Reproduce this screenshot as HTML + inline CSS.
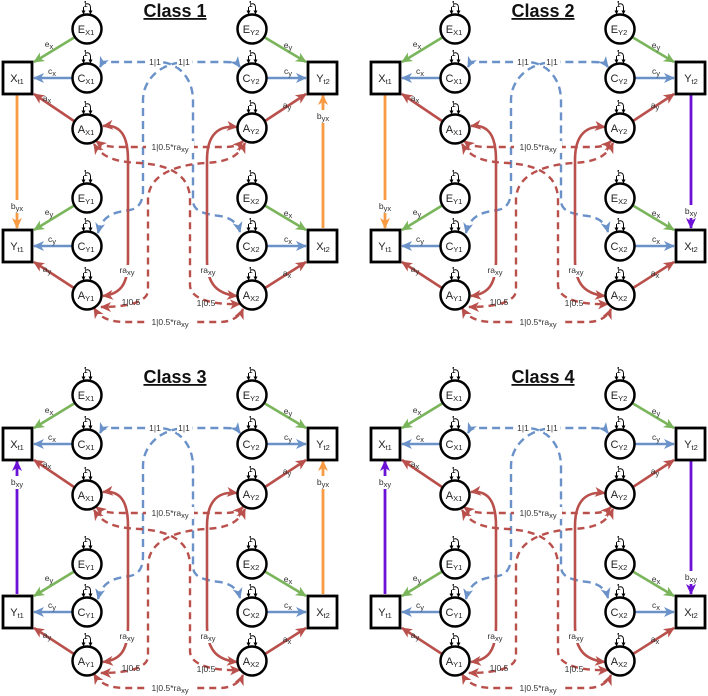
<!DOCTYPE html>
<html><head><meta charset="utf-8"><style>
html,body{margin:0;padding:0;background:#fff;}
svg{display:block;font-family:"Liberation Sans",sans-serif;}
.c{fill:#fff;stroke:#000;stroke-width:2.5}
.b{fill:#fff;stroke:#000;stroke-width:2.8}
.n{font-size:11px;text-anchor:middle;fill:#222}
.s{font-size:7.5px}
.l{font-size:8.5px;text-anchor:middle;fill:#333}
.w{fill:#fff}
.t{font-size:18px;font-weight:bold;text-anchor:middle;text-decoration:underline;fill:#111}
.g{stroke:#7ab55c;stroke-width:2.6;fill:none;marker-end:url(#mg)}
.bl{stroke:#6a92c9;stroke-width:2.6;fill:none;marker-end:url(#mb)}
.r{stroke:#b9504c;stroke-width:2.6;fill:none;marker-end:url(#mr)}
.bd{stroke:#6a92c9;stroke-width:2.4;fill:none;stroke-dasharray:8 5;marker-start:url(#mb);marker-end:url(#mb)}
.rd{stroke:#b9504c;stroke-width:2.4;fill:none;stroke-dasharray:7 5;marker-start:url(#mr);marker-end:url(#mr)}
.rs{stroke:#b9504c;stroke-width:2.6;fill:none;marker-start:url(#mr);marker-end:url(#mr)}
.o{stroke:#f99b45;stroke-width:2.8;fill:none;marker-end:url(#mo)}
.p{stroke:#6c12d6;stroke-width:2.8;fill:none;marker-end:url(#mp)}
.lp{stroke:#000;stroke-width:1;fill:none;marker-end:url(#mk)}
.one{font-size:8px;text-anchor:middle;fill:#000}
</style></head><body>
<svg width="708" height="696" viewBox="0 0 708 696" xmlns="http://www.w3.org/2000/svg">
<defs>
<marker id="mg" markerUnits="userSpaceOnUse" markerWidth="11" markerHeight="10" refX="10" refY="5" orient="auto-start-reverse"><path d="M0,0 L11,5 L0,10 L3,5z" fill="#7ab55c"/></marker>
<marker id="mb" markerUnits="userSpaceOnUse" markerWidth="11" markerHeight="10" refX="10" refY="5" orient="auto-start-reverse"><path d="M0,0 L11,5 L0,10 L3,5z" fill="#6a92c9"/></marker>
<marker id="mr" markerUnits="userSpaceOnUse" markerWidth="11" markerHeight="10" refX="10" refY="5" orient="auto-start-reverse"><path d="M0,0 L11,5 L0,10 L3,5z" fill="#b9504c"/></marker>
<marker id="mo" markerUnits="userSpaceOnUse" markerWidth="11" markerHeight="10" refX="10" refY="5" orient="auto-start-reverse"><path d="M0,0 L11,5 L0,10 L3,5z" fill="#f99b45"/></marker>
<marker id="mp" markerUnits="userSpaceOnUse" markerWidth="11" markerHeight="10" refX="10" refY="5" orient="auto-start-reverse"><path d="M0,0 L11,5 L0,10 L3,5z" fill="#6c12d6"/></marker>
<marker id="mk" markerUnits="userSpaceOnUse" markerWidth="4" markerHeight="4" refX="3.5" refY="2" orient="auto"><path d="M0,0 L4,2 L0,4z" fill="#000"/></marker>
</defs>

<!-- PANEL 1 -->
<g transform="translate(0,0)">
<text class="t" x="175" y="17">Class 1</text>
<path class="bd" d="M98,233 C102,215 115,212 130,210 C140,208 143,200 143,190 L143,100 C143,80 160,63 185,62 L225,62 C233,62 237,63 240,67"/>
<path class="bd" d="M100,67 C102,63 105,62 110,62 L160,62 C180,63 193,80 193,100 L193,200 C193,212 205,214 220,216 C232,218 238,224 240,232"/>
<path class="rd" d="M96,141 C104,147 112,147 125,147 L225,147 C234,147 239,145 243,141"/>
<path class="rd" d="M94,144 C104,160 120,162 140,163 C170,165 190,175 190,200 L190,285 C190,300 215,305 240,304"/>
<path class="rd" d="M245,143 C238,158 225,162 205,163 C175,165 148,175 148,200 L148,290 C148,303 125,307 101,307"/>
<path class="rd" d="M94,308 C100,318 110,322 125,322 L220,322 C232,322 240,316 243,309"/>
<path class="rs" d="M103,126 C120,124 128,135 128,160 L128,260 C128,285 120,294 103,296"/>
<path class="rs" d="M237,127 C218,125 207,135 207,160 L207,260 C207,285 218,294 237,296"/>
<path class="g" d="M75,37 L34,62"/><path class="bl" d="M72,78 L34,78"/><path class="r" d="M74,121 L34,94"/>
<path class="g" d="M264,37 L306,62"/><path class="bl" d="M267,78 L306,78"/><path class="r" d="M265,121 L306,94"/>
<path class="g" d="M75,205 L34,230"/><path class="bl" d="M72,246 L34,246"/><path class="r" d="M74,288 L34,262"/>
<path class="g" d="M264,205 L306,230"/><path class="bl" d="M267,246 L306,246"/><path class="r" d="M265,288 L306,262"/>
<path class="o" d="M17,95 L17,228"/><path class="o" d="M323,228 L323,95"/>
<rect class="w" x="9" y="200" width="16" height="13"/><rect class="w" x="315" y="110" width="16" height="13"/>
<rect class="w" x="148" y="57" width="15" height="10"/><rect class="w" x="177" y="57" width="15" height="10"/>
<rect class="w" x="146" y="141" width="48" height="12"/><rect class="w" x="146" y="316" width="48" height="12"/>
<rect class="w" x="119" y="265" width="17" height="12"/><rect class="w" x="200" y="265" width="17" height="12"/>
<text class="l" x="17" y="209">b<tspan class="s" dy="2">yx</tspan></text>
<text class="l" x="323" y="119">b<tspan class="s" dy="2">yx</tspan></text>
<text class="l" x="155" y="65">1|1</text><text class="l" x="184" y="65">1|1</text>
<text class="l" x="170" y="150">1|0.5*ra<tspan class="s" dy="2">xy</tspan></text>
<text class="l" x="170" y="325">1|0.5*ra<tspan class="s" dy="2">xy</tspan></text>
<text class="l" x="131" y="305">1|0.5</text><text class="l" x="206" y="306">1|0.5</text>
<text class="l" x="127" y="273">ra<tspan class="s" dy="2">xy</tspan></text>
<text class="l" x="208" y="273">ra<tspan class="s" dy="2">xy</tspan></text>
<text class="l" x="49" y="47">e<tspan class="s" dy="2">x</tspan></text><text class="l" x="52" y="74">c<tspan class="s" dy="2">x</tspan></text><text class="l" x="47" y="101">a<tspan class="s" dy="2">x</tspan></text>
<text class="l" x="288" y="48">e<tspan class="s" dy="2">y</tspan></text><text class="l" x="288" y="74">c<tspan class="s" dy="2">y</tspan></text><text class="l" x="287" y="108">a<tspan class="s" dy="2">y</tspan></text>
<text class="l" x="49" y="215">e<tspan class="s" dy="2">y</tspan></text><text class="l" x="52" y="242">c<tspan class="s" dy="2">y</tspan></text><text class="l" x="47" y="272">a<tspan class="s" dy="2">y</tspan></text>
<text class="l" x="288" y="216">e<tspan class="s" dy="2">x</tspan></text><text class="l" x="288" y="242">c<tspan class="s" dy="2">x</tspan></text><text class="l" x="287" y="276">a<tspan class="s" dy="2">x</tspan></text>
<rect class="b" x="3" y="62" width="29" height="32"/><text class="n" x="17" y="82">X<tspan class="s" dy="2">t1</tspan></text>
<rect class="b" x="3" y="230" width="29" height="32"/><text class="n" x="17" y="250">Y<tspan class="s" dy="2">t1</tspan></text>
<rect class="b" x="308" y="62" width="29" height="32"/><text class="n" x="323" y="82">Y<tspan class="s" dy="2">t2</tspan></text>
<rect class="b" x="308" y="230" width="29" height="32"/><text class="n" x="323" y="250">X<tspan class="s" dy="2">t2</tspan></text>
<g transform="translate(87,29)"><circle class="c" r="14.5"/><path class="lp" d="M-3.5,-22 L-3.5,-15"/><path class="lp" d="M-1,-25 C3,-26 3.5,-23 3.5,-21 L3.5,-15"/><text class="one" x="-1.5" y="-22">1</text><text class="n" x="-1" y="4">E<tspan class="s" dy="2">X1</tspan></text></g>
<g transform="translate(87,78)"><circle class="c" r="14.5"/><path class="lp" d="M-3.5,-22 L-3.5,-15"/><path class="lp" d="M-1,-25 C3,-26 3.5,-23 3.5,-21 L3.5,-15"/><text class="one" x="-1.5" y="-22">1</text><text class="n" x="-1" y="4">C<tspan class="s" dy="2">X1</tspan></text></g>
<g transform="translate(87,129)"><circle class="c" r="14.5"/><path class="lp" d="M-3.5,-22 L-3.5,-15"/><path class="lp" d="M-1,-25 C3,-26 3.5,-23 3.5,-21 L3.5,-15"/><text class="one" x="-1.5" y="-22">1</text><text class="n" x="-1" y="4">A<tspan class="s" dy="2">X1</tspan></text></g>
<g transform="translate(87,198)"><circle class="c" r="14.5"/><path class="lp" d="M-3.5,-22 L-3.5,-15"/><path class="lp" d="M-1,-25 C3,-26 3.5,-23 3.5,-21 L3.5,-15"/><text class="one" x="-1.5" y="-22">1</text><text class="n" x="-1" y="4">E<tspan class="s" dy="2">Y1</tspan></text></g>
<g transform="translate(87,246)"><circle class="c" r="14.5"/><path class="lp" d="M-3.5,-22 L-3.5,-15"/><path class="lp" d="M-1,-25 C3,-26 3.5,-23 3.5,-21 L3.5,-15"/><text class="one" x="-1.5" y="-22">1</text><text class="n" x="-1" y="4">C<tspan class="s" dy="2">Y1</tspan></text></g>
<g transform="translate(87,295)"><circle class="c" r="14.5"/><path class="lp" d="M-3.5,-22 L-3.5,-15"/><path class="lp" d="M-1,-25 C3,-26 3.5,-23 3.5,-21 L3.5,-15"/><text class="one" x="-1.5" y="-22">1</text><text class="n" x="-1" y="4">A<tspan class="s" dy="2">Y1</tspan></text></g>
<g transform="translate(252,29)"><circle class="c" r="14.5"/><path class="lp" d="M-3.5,-22 L-3.5,-15"/><path class="lp" d="M-1,-25 C3,-26 3.5,-23 3.5,-21 L3.5,-15"/><text class="one" x="-1.5" y="-22">1</text><text class="n" x="-1" y="4">E<tspan class="s" dy="2">Y2</tspan></text></g>
<g transform="translate(252,78)"><circle class="c" r="14.5"/><path class="lp" d="M-3.5,-22 L-3.5,-15"/><path class="lp" d="M-1,-25 C3,-26 3.5,-23 3.5,-21 L3.5,-15"/><text class="one" x="-1.5" y="-22">1</text><text class="n" x="-1" y="4">C<tspan class="s" dy="2">Y2</tspan></text></g>
<g transform="translate(252,128)"><circle class="c" r="14.5"/><path class="lp" d="M-3.5,-22 L-3.5,-15"/><path class="lp" d="M-1,-25 C3,-26 3.5,-23 3.5,-21 L3.5,-15"/><text class="one" x="-1.5" y="-22">1</text><text class="n" x="-1" y="4">A<tspan class="s" dy="2">Y2</tspan></text></g>
<g transform="translate(252,198)"><circle class="c" r="14.5"/><path class="lp" d="M-3.5,-22 L-3.5,-15"/><path class="lp" d="M-1,-25 C3,-26 3.5,-23 3.5,-21 L3.5,-15"/><text class="one" x="-1.5" y="-22">1</text><text class="n" x="-1" y="4">E<tspan class="s" dy="2">X2</tspan></text></g>
<g transform="translate(252,246)"><circle class="c" r="14.5"/><path class="lp" d="M-3.5,-22 L-3.5,-15"/><path class="lp" d="M-1,-25 C3,-26 3.5,-23 3.5,-21 L3.5,-15"/><text class="one" x="-1.5" y="-22">1</text><text class="n" x="-1" y="4">C<tspan class="s" dy="2">X2</tspan></text></g>
<g transform="translate(252,295)"><circle class="c" r="14.5"/><path class="lp" d="M-3.5,-22 L-3.5,-15"/><path class="lp" d="M-1,-25 C3,-26 3.5,-23 3.5,-21 L3.5,-15"/><text class="one" x="-1.5" y="-22">1</text><text class="n" x="-1" y="4">A<tspan class="s" dy="2">X2</tspan></text></g>
</g>

<!-- PANEL 2 -->
<g transform="translate(368,0)">
<text class="t" x="175" y="17">Class 2</text>
<path class="bd" d="M98,233 C102,215 115,212 130,210 C140,208 143,200 143,190 L143,100 C143,80 160,63 185,62 L225,62 C233,62 237,63 240,67"/>
<path class="bd" d="M100,67 C102,63 105,62 110,62 L160,62 C180,63 193,80 193,100 L193,200 C193,212 205,214 220,216 C232,218 238,224 240,232"/>
<path class="rd" d="M96,141 C104,147 112,147 125,147 L225,147 C234,147 239,145 243,141"/>
<path class="rd" d="M94,144 C104,160 120,162 140,163 C170,165 190,175 190,200 L190,285 C190,300 215,305 240,304"/>
<path class="rd" d="M245,143 C238,158 225,162 205,163 C175,165 148,175 148,200 L148,290 C148,303 125,307 101,307"/>
<path class="rd" d="M94,308 C100,318 110,322 125,322 L220,322 C232,322 240,316 243,309"/>
<path class="rs" d="M103,126 C120,124 128,135 128,160 L128,260 C128,285 120,294 103,296"/>
<path class="rs" d="M237,127 C218,125 207,135 207,160 L207,260 C207,285 218,294 237,296"/>
<path class="g" d="M75,37 L34,62"/><path class="bl" d="M72,78 L34,78"/><path class="r" d="M74,121 L34,94"/>
<path class="g" d="M264,37 L306,62"/><path class="bl" d="M267,78 L306,78"/><path class="r" d="M265,121 L306,94"/>
<path class="g" d="M75,205 L34,230"/><path class="bl" d="M72,246 L34,246"/><path class="r" d="M74,288 L34,262"/>
<path class="g" d="M264,205 L306,230"/><path class="bl" d="M267,246 L306,246"/><path class="r" d="M265,288 L306,262"/>
<path class="o" d="M17,95 L17,228"/><path class="p" d="M323,95 L323,228"/>
<rect class="w" x="9" y="200" width="16" height="13"/><rect class="w" x="315" y="205" width="16" height="13"/>
<rect class="w" x="148" y="57" width="15" height="10"/><rect class="w" x="177" y="57" width="15" height="10"/>
<rect class="w" x="146" y="141" width="48" height="12"/><rect class="w" x="146" y="316" width="48" height="12"/>
<rect class="w" x="119" y="265" width="17" height="12"/><rect class="w" x="200" y="265" width="17" height="12"/>
<text class="l" x="17" y="209">b<tspan class="s" dy="2">yx</tspan></text>
<text class="l" x="323" y="214">b<tspan class="s" dy="2">xy</tspan></text>
<text class="l" x="155" y="65">1|1</text><text class="l" x="184" y="65">1|1</text>
<text class="l" x="170" y="150">1|0.5*ra<tspan class="s" dy="2">xy</tspan></text>
<text class="l" x="170" y="325">1|0.5*ra<tspan class="s" dy="2">xy</tspan></text>
<text class="l" x="131" y="305">1|0.5</text><text class="l" x="206" y="306">1|0.5</text>
<text class="l" x="127" y="273">ra<tspan class="s" dy="2">xy</tspan></text>
<text class="l" x="208" y="273">ra<tspan class="s" dy="2">xy</tspan></text>
<text class="l" x="49" y="47">e<tspan class="s" dy="2">x</tspan></text><text class="l" x="52" y="74">c<tspan class="s" dy="2">x</tspan></text><text class="l" x="47" y="101">a<tspan class="s" dy="2">x</tspan></text>
<text class="l" x="288" y="48">e<tspan class="s" dy="2">y</tspan></text><text class="l" x="288" y="74">c<tspan class="s" dy="2">y</tspan></text><text class="l" x="287" y="108">a<tspan class="s" dy="2">y</tspan></text>
<text class="l" x="49" y="215">e<tspan class="s" dy="2">y</tspan></text><text class="l" x="52" y="242">c<tspan class="s" dy="2">y</tspan></text><text class="l" x="47" y="272">a<tspan class="s" dy="2">y</tspan></text>
<text class="l" x="288" y="216">e<tspan class="s" dy="2">x</tspan></text><text class="l" x="288" y="242">c<tspan class="s" dy="2">x</tspan></text><text class="l" x="287" y="276">a<tspan class="s" dy="2">x</tspan></text>
<rect class="b" x="3" y="62" width="29" height="32"/><text class="n" x="17" y="82">X<tspan class="s" dy="2">t1</tspan></text>
<rect class="b" x="3" y="230" width="29" height="32"/><text class="n" x="17" y="250">Y<tspan class="s" dy="2">t1</tspan></text>
<rect class="b" x="308" y="62" width="29" height="32"/><text class="n" x="323" y="82">Y<tspan class="s" dy="2">t2</tspan></text>
<rect class="b" x="308" y="230" width="29" height="32"/><text class="n" x="323" y="250">X<tspan class="s" dy="2">t2</tspan></text>
<g transform="translate(87,29)"><circle class="c" r="14.5"/><path class="lp" d="M-3.5,-22 L-3.5,-15"/><path class="lp" d="M-1,-25 C3,-26 3.5,-23 3.5,-21 L3.5,-15"/><text class="one" x="-1.5" y="-22">1</text><text class="n" x="-1" y="4">E<tspan class="s" dy="2">X1</tspan></text></g>
<g transform="translate(87,78)"><circle class="c" r="14.5"/><path class="lp" d="M-3.5,-22 L-3.5,-15"/><path class="lp" d="M-1,-25 C3,-26 3.5,-23 3.5,-21 L3.5,-15"/><text class="one" x="-1.5" y="-22">1</text><text class="n" x="-1" y="4">C<tspan class="s" dy="2">X1</tspan></text></g>
<g transform="translate(87,129)"><circle class="c" r="14.5"/><path class="lp" d="M-3.5,-22 L-3.5,-15"/><path class="lp" d="M-1,-25 C3,-26 3.5,-23 3.5,-21 L3.5,-15"/><text class="one" x="-1.5" y="-22">1</text><text class="n" x="-1" y="4">A<tspan class="s" dy="2">X1</tspan></text></g>
<g transform="translate(87,198)"><circle class="c" r="14.5"/><path class="lp" d="M-3.5,-22 L-3.5,-15"/><path class="lp" d="M-1,-25 C3,-26 3.5,-23 3.5,-21 L3.5,-15"/><text class="one" x="-1.5" y="-22">1</text><text class="n" x="-1" y="4">E<tspan class="s" dy="2">Y1</tspan></text></g>
<g transform="translate(87,246)"><circle class="c" r="14.5"/><path class="lp" d="M-3.5,-22 L-3.5,-15"/><path class="lp" d="M-1,-25 C3,-26 3.5,-23 3.5,-21 L3.5,-15"/><text class="one" x="-1.5" y="-22">1</text><text class="n" x="-1" y="4">C<tspan class="s" dy="2">Y1</tspan></text></g>
<g transform="translate(87,295)"><circle class="c" r="14.5"/><path class="lp" d="M-3.5,-22 L-3.5,-15"/><path class="lp" d="M-1,-25 C3,-26 3.5,-23 3.5,-21 L3.5,-15"/><text class="one" x="-1.5" y="-22">1</text><text class="n" x="-1" y="4">A<tspan class="s" dy="2">Y1</tspan></text></g>
<g transform="translate(252,29)"><circle class="c" r="14.5"/><path class="lp" d="M-3.5,-22 L-3.5,-15"/><path class="lp" d="M-1,-25 C3,-26 3.5,-23 3.5,-21 L3.5,-15"/><text class="one" x="-1.5" y="-22">1</text><text class="n" x="-1" y="4">E<tspan class="s" dy="2">Y2</tspan></text></g>
<g transform="translate(252,78)"><circle class="c" r="14.5"/><path class="lp" d="M-3.5,-22 L-3.5,-15"/><path class="lp" d="M-1,-25 C3,-26 3.5,-23 3.5,-21 L3.5,-15"/><text class="one" x="-1.5" y="-22">1</text><text class="n" x="-1" y="4">C<tspan class="s" dy="2">Y2</tspan></text></g>
<g transform="translate(252,128)"><circle class="c" r="14.5"/><path class="lp" d="M-3.5,-22 L-3.5,-15"/><path class="lp" d="M-1,-25 C3,-26 3.5,-23 3.5,-21 L3.5,-15"/><text class="one" x="-1.5" y="-22">1</text><text class="n" x="-1" y="4">A<tspan class="s" dy="2">Y2</tspan></text></g>
<g transform="translate(252,198)"><circle class="c" r="14.5"/><path class="lp" d="M-3.5,-22 L-3.5,-15"/><path class="lp" d="M-1,-25 C3,-26 3.5,-23 3.5,-21 L3.5,-15"/><text class="one" x="-1.5" y="-22">1</text><text class="n" x="-1" y="4">E<tspan class="s" dy="2">X2</tspan></text></g>
<g transform="translate(252,246)"><circle class="c" r="14.5"/><path class="lp" d="M-3.5,-22 L-3.5,-15"/><path class="lp" d="M-1,-25 C3,-26 3.5,-23 3.5,-21 L3.5,-15"/><text class="one" x="-1.5" y="-22">1</text><text class="n" x="-1" y="4">C<tspan class="s" dy="2">X2</tspan></text></g>
<g transform="translate(252,295)"><circle class="c" r="14.5"/><path class="lp" d="M-3.5,-22 L-3.5,-15"/><path class="lp" d="M-1,-25 C3,-26 3.5,-23 3.5,-21 L3.5,-15"/><text class="one" x="-1.5" y="-22">1</text><text class="n" x="-1" y="4">A<tspan class="s" dy="2">X2</tspan></text></g>
</g>

<!-- PANEL 3 -->
<g transform="translate(0,366)">
<text class="t" x="175" y="17">Class 3</text>
<path class="bd" d="M98,233 C102,215 115,212 130,210 C140,208 143,200 143,190 L143,100 C143,80 160,63 185,62 L225,62 C233,62 237,63 240,67"/>
<path class="bd" d="M100,67 C102,63 105,62 110,62 L160,62 C180,63 193,80 193,100 L193,200 C193,212 205,214 220,216 C232,218 238,224 240,232"/>
<path class="rd" d="M96,141 C104,147 112,147 125,147 L225,147 C234,147 239,145 243,141"/>
<path class="rd" d="M94,144 C104,160 120,162 140,163 C170,165 190,175 190,200 L190,285 C190,300 215,305 240,304"/>
<path class="rd" d="M245,143 C238,158 225,162 205,163 C175,165 148,175 148,200 L148,290 C148,303 125,307 101,307"/>
<path class="rd" d="M94,308 C100,318 110,322 125,322 L220,322 C232,322 240,316 243,309"/>
<path class="rs" d="M103,126 C120,124 128,135 128,160 L128,260 C128,285 120,294 103,296"/>
<path class="rs" d="M237,127 C218,125 207,135 207,160 L207,260 C207,285 218,294 237,296"/>
<path class="g" d="M75,37 L34,62"/><path class="bl" d="M72,78 L34,78"/><path class="r" d="M74,121 L34,94"/>
<path class="g" d="M264,37 L306,62"/><path class="bl" d="M267,78 L306,78"/><path class="r" d="M265,121 L306,94"/>
<path class="g" d="M75,205 L34,230"/><path class="bl" d="M72,246 L34,246"/><path class="r" d="M74,288 L34,262"/>
<path class="g" d="M264,205 L306,230"/><path class="bl" d="M267,246 L306,246"/><path class="r" d="M265,288 L306,262"/>
<path class="p" d="M17,228 L17,95"/><path class="o" d="M323,228 L323,95"/>
<rect class="w" x="9" y="110" width="16" height="13"/><rect class="w" x="315" y="110" width="16" height="13"/>
<rect class="w" x="148" y="57" width="15" height="10"/><rect class="w" x="177" y="57" width="15" height="10"/>
<rect class="w" x="146" y="141" width="48" height="12"/><rect class="w" x="146" y="316" width="48" height="12"/>
<rect class="w" x="119" y="265" width="17" height="12"/><rect class="w" x="200" y="265" width="17" height="12"/>
<text class="l" x="17" y="119">b<tspan class="s" dy="2">xy</tspan></text>
<text class="l" x="323" y="119">b<tspan class="s" dy="2">yx</tspan></text>
<text class="l" x="155" y="65">1|1</text><text class="l" x="184" y="65">1|1</text>
<text class="l" x="170" y="150">1|0.5*ra<tspan class="s" dy="2">xy</tspan></text>
<text class="l" x="170" y="325">1|0.5*ra<tspan class="s" dy="2">xy</tspan></text>
<text class="l" x="131" y="305">1|0.5</text><text class="l" x="206" y="306">1|0.5</text>
<text class="l" x="127" y="273">ra<tspan class="s" dy="2">xy</tspan></text>
<text class="l" x="208" y="273">ra<tspan class="s" dy="2">xy</tspan></text>
<text class="l" x="49" y="47">e<tspan class="s" dy="2">x</tspan></text><text class="l" x="52" y="74">c<tspan class="s" dy="2">x</tspan></text><text class="l" x="47" y="101">a<tspan class="s" dy="2">x</tspan></text>
<text class="l" x="288" y="48">e<tspan class="s" dy="2">y</tspan></text><text class="l" x="288" y="74">c<tspan class="s" dy="2">y</tspan></text><text class="l" x="287" y="108">a<tspan class="s" dy="2">y</tspan></text>
<text class="l" x="49" y="215">e<tspan class="s" dy="2">y</tspan></text><text class="l" x="52" y="242">c<tspan class="s" dy="2">y</tspan></text><text class="l" x="47" y="272">a<tspan class="s" dy="2">y</tspan></text>
<text class="l" x="288" y="216">e<tspan class="s" dy="2">x</tspan></text><text class="l" x="288" y="242">c<tspan class="s" dy="2">x</tspan></text><text class="l" x="287" y="276">a<tspan class="s" dy="2">x</tspan></text>
<rect class="b" x="3" y="62" width="29" height="32"/><text class="n" x="17" y="82">X<tspan class="s" dy="2">t1</tspan></text>
<rect class="b" x="3" y="230" width="29" height="32"/><text class="n" x="17" y="250">Y<tspan class="s" dy="2">t1</tspan></text>
<rect class="b" x="308" y="62" width="29" height="32"/><text class="n" x="323" y="82">Y<tspan class="s" dy="2">t2</tspan></text>
<rect class="b" x="308" y="230" width="29" height="32"/><text class="n" x="323" y="250">X<tspan class="s" dy="2">t2</tspan></text>
<g transform="translate(87,29)"><circle class="c" r="14.5"/><path class="lp" d="M-3.5,-22 L-3.5,-15"/><path class="lp" d="M-1,-25 C3,-26 3.5,-23 3.5,-21 L3.5,-15"/><text class="one" x="-1.5" y="-22">1</text><text class="n" x="-1" y="4">E<tspan class="s" dy="2">X1</tspan></text></g>
<g transform="translate(87,78)"><circle class="c" r="14.5"/><path class="lp" d="M-3.5,-22 L-3.5,-15"/><path class="lp" d="M-1,-25 C3,-26 3.5,-23 3.5,-21 L3.5,-15"/><text class="one" x="-1.5" y="-22">1</text><text class="n" x="-1" y="4">C<tspan class="s" dy="2">X1</tspan></text></g>
<g transform="translate(87,129)"><circle class="c" r="14.5"/><path class="lp" d="M-3.5,-22 L-3.5,-15"/><path class="lp" d="M-1,-25 C3,-26 3.5,-23 3.5,-21 L3.5,-15"/><text class="one" x="-1.5" y="-22">1</text><text class="n" x="-1" y="4">A<tspan class="s" dy="2">X1</tspan></text></g>
<g transform="translate(87,198)"><circle class="c" r="14.5"/><path class="lp" d="M-3.5,-22 L-3.5,-15"/><path class="lp" d="M-1,-25 C3,-26 3.5,-23 3.5,-21 L3.5,-15"/><text class="one" x="-1.5" y="-22">1</text><text class="n" x="-1" y="4">E<tspan class="s" dy="2">Y1</tspan></text></g>
<g transform="translate(87,246)"><circle class="c" r="14.5"/><path class="lp" d="M-3.5,-22 L-3.5,-15"/><path class="lp" d="M-1,-25 C3,-26 3.5,-23 3.5,-21 L3.5,-15"/><text class="one" x="-1.5" y="-22">1</text><text class="n" x="-1" y="4">C<tspan class="s" dy="2">Y1</tspan></text></g>
<g transform="translate(87,295)"><circle class="c" r="14.5"/><path class="lp" d="M-3.5,-22 L-3.5,-15"/><path class="lp" d="M-1,-25 C3,-26 3.5,-23 3.5,-21 L3.5,-15"/><text class="one" x="-1.5" y="-22">1</text><text class="n" x="-1" y="4">A<tspan class="s" dy="2">Y1</tspan></text></g>
<g transform="translate(252,29)"><circle class="c" r="14.5"/><path class="lp" d="M-3.5,-22 L-3.5,-15"/><path class="lp" d="M-1,-25 C3,-26 3.5,-23 3.5,-21 L3.5,-15"/><text class="one" x="-1.5" y="-22">1</text><text class="n" x="-1" y="4">E<tspan class="s" dy="2">Y2</tspan></text></g>
<g transform="translate(252,78)"><circle class="c" r="14.5"/><path class="lp" d="M-3.5,-22 L-3.5,-15"/><path class="lp" d="M-1,-25 C3,-26 3.5,-23 3.5,-21 L3.5,-15"/><text class="one" x="-1.5" y="-22">1</text><text class="n" x="-1" y="4">C<tspan class="s" dy="2">Y2</tspan></text></g>
<g transform="translate(252,128)"><circle class="c" r="14.5"/><path class="lp" d="M-3.5,-22 L-3.5,-15"/><path class="lp" d="M-1,-25 C3,-26 3.5,-23 3.5,-21 L3.5,-15"/><text class="one" x="-1.5" y="-22">1</text><text class="n" x="-1" y="4">A<tspan class="s" dy="2">Y2</tspan></text></g>
<g transform="translate(252,198)"><circle class="c" r="14.5"/><path class="lp" d="M-3.5,-22 L-3.5,-15"/><path class="lp" d="M-1,-25 C3,-26 3.5,-23 3.5,-21 L3.5,-15"/><text class="one" x="-1.5" y="-22">1</text><text class="n" x="-1" y="4">E<tspan class="s" dy="2">X2</tspan></text></g>
<g transform="translate(252,246)"><circle class="c" r="14.5"/><path class="lp" d="M-3.5,-22 L-3.5,-15"/><path class="lp" d="M-1,-25 C3,-26 3.5,-23 3.5,-21 L3.5,-15"/><text class="one" x="-1.5" y="-22">1</text><text class="n" x="-1" y="4">C<tspan class="s" dy="2">X2</tspan></text></g>
<g transform="translate(252,295)"><circle class="c" r="14.5"/><path class="lp" d="M-3.5,-22 L-3.5,-15"/><path class="lp" d="M-1,-25 C3,-26 3.5,-23 3.5,-21 L3.5,-15"/><text class="one" x="-1.5" y="-22">1</text><text class="n" x="-1" y="4">A<tspan class="s" dy="2">X2</tspan></text></g>
</g>

<!-- PANEL 4 -->
<g transform="translate(368,366)">
<text class="t" x="175" y="17">Class 4</text>
<path class="bd" d="M98,233 C102,215 115,212 130,210 C140,208 143,200 143,190 L143,100 C143,80 160,63 185,62 L225,62 C233,62 237,63 240,67"/>
<path class="bd" d="M100,67 C102,63 105,62 110,62 L160,62 C180,63 193,80 193,100 L193,200 C193,212 205,214 220,216 C232,218 238,224 240,232"/>
<path class="rd" d="M96,141 C104,147 112,147 125,147 L225,147 C234,147 239,145 243,141"/>
<path class="rd" d="M94,144 C104,160 120,162 140,163 C170,165 190,175 190,200 L190,285 C190,300 215,305 240,304"/>
<path class="rd" d="M245,143 C238,158 225,162 205,163 C175,165 148,175 148,200 L148,290 C148,303 125,307 101,307"/>
<path class="rd" d="M94,308 C100,318 110,322 125,322 L220,322 C232,322 240,316 243,309"/>
<path class="rs" d="M103,126 C120,124 128,135 128,160 L128,260 C128,285 120,294 103,296"/>
<path class="rs" d="M237,127 C218,125 207,135 207,160 L207,260 C207,285 218,294 237,296"/>
<path class="g" d="M75,37 L34,62"/><path class="bl" d="M72,78 L34,78"/><path class="r" d="M74,121 L34,94"/>
<path class="g" d="M264,37 L306,62"/><path class="bl" d="M267,78 L306,78"/><path class="r" d="M265,121 L306,94"/>
<path class="g" d="M75,205 L34,230"/><path class="bl" d="M72,246 L34,246"/><path class="r" d="M74,288 L34,262"/>
<path class="g" d="M264,205 L306,230"/><path class="bl" d="M267,246 L306,246"/><path class="r" d="M265,288 L306,262"/>
<path class="p" d="M17,228 L17,95"/><path class="p" d="M323,95 L323,228"/>
<rect class="w" x="9" y="110" width="16" height="13"/><rect class="w" x="315" y="205" width="16" height="13"/>
<rect class="w" x="148" y="57" width="15" height="10"/><rect class="w" x="177" y="57" width="15" height="10"/>
<rect class="w" x="146" y="141" width="48" height="12"/><rect class="w" x="146" y="316" width="48" height="12"/>
<rect class="w" x="119" y="265" width="17" height="12"/><rect class="w" x="200" y="265" width="17" height="12"/>
<text class="l" x="17" y="119">b<tspan class="s" dy="2">xy</tspan></text>
<text class="l" x="323" y="214">b<tspan class="s" dy="2">xy</tspan></text>
<text class="l" x="155" y="65">1|1</text><text class="l" x="184" y="65">1|1</text>
<text class="l" x="170" y="150">1|0.5*ra<tspan class="s" dy="2">xy</tspan></text>
<text class="l" x="170" y="325">1|0.5*ra<tspan class="s" dy="2">xy</tspan></text>
<text class="l" x="131" y="305">1|0.5</text><text class="l" x="206" y="306">1|0.5</text>
<text class="l" x="127" y="273">ra<tspan class="s" dy="2">xy</tspan></text>
<text class="l" x="208" y="273">ra<tspan class="s" dy="2">xy</tspan></text>
<text class="l" x="49" y="47">e<tspan class="s" dy="2">x</tspan></text><text class="l" x="52" y="74">c<tspan class="s" dy="2">x</tspan></text><text class="l" x="47" y="101">a<tspan class="s" dy="2">x</tspan></text>
<text class="l" x="288" y="48">e<tspan class="s" dy="2">y</tspan></text><text class="l" x="288" y="74">c<tspan class="s" dy="2">y</tspan></text><text class="l" x="287" y="108">a<tspan class="s" dy="2">y</tspan></text>
<text class="l" x="49" y="215">e<tspan class="s" dy="2">y</tspan></text><text class="l" x="52" y="242">c<tspan class="s" dy="2">y</tspan></text><text class="l" x="47" y="272">a<tspan class="s" dy="2">y</tspan></text>
<text class="l" x="288" y="216">e<tspan class="s" dy="2">x</tspan></text><text class="l" x="288" y="242">c<tspan class="s" dy="2">x</tspan></text><text class="l" x="287" y="276">a<tspan class="s" dy="2">x</tspan></text>
<rect class="b" x="3" y="62" width="29" height="32"/><text class="n" x="17" y="82">X<tspan class="s" dy="2">t1</tspan></text>
<rect class="b" x="3" y="230" width="29" height="32"/><text class="n" x="17" y="250">Y<tspan class="s" dy="2">t1</tspan></text>
<rect class="b" x="308" y="62" width="29" height="32"/><text class="n" x="323" y="82">Y<tspan class="s" dy="2">t2</tspan></text>
<rect class="b" x="308" y="230" width="29" height="32"/><text class="n" x="323" y="250">X<tspan class="s" dy="2">t2</tspan></text>
<g transform="translate(87,29)"><circle class="c" r="14.5"/><path class="lp" d="M-3.5,-22 L-3.5,-15"/><path class="lp" d="M-1,-25 C3,-26 3.5,-23 3.5,-21 L3.5,-15"/><text class="one" x="-1.5" y="-22">1</text><text class="n" x="-1" y="4">E<tspan class="s" dy="2">X1</tspan></text></g>
<g transform="translate(87,78)"><circle class="c" r="14.5"/><path class="lp" d="M-3.5,-22 L-3.5,-15"/><path class="lp" d="M-1,-25 C3,-26 3.5,-23 3.5,-21 L3.5,-15"/><text class="one" x="-1.5" y="-22">1</text><text class="n" x="-1" y="4">C<tspan class="s" dy="2">X1</tspan></text></g>
<g transform="translate(87,129)"><circle class="c" r="14.5"/><path class="lp" d="M-3.5,-22 L-3.5,-15"/><path class="lp" d="M-1,-25 C3,-26 3.5,-23 3.5,-21 L3.5,-15"/><text class="one" x="-1.5" y="-22">1</text><text class="n" x="-1" y="4">A<tspan class="s" dy="2">X1</tspan></text></g>
<g transform="translate(87,198)"><circle class="c" r="14.5"/><path class="lp" d="M-3.5,-22 L-3.5,-15"/><path class="lp" d="M-1,-25 C3,-26 3.5,-23 3.5,-21 L3.5,-15"/><text class="one" x="-1.5" y="-22">1</text><text class="n" x="-1" y="4">E<tspan class="s" dy="2">Y1</tspan></text></g>
<g transform="translate(87,246)"><circle class="c" r="14.5"/><path class="lp" d="M-3.5,-22 L-3.5,-15"/><path class="lp" d="M-1,-25 C3,-26 3.5,-23 3.5,-21 L3.5,-15"/><text class="one" x="-1.5" y="-22">1</text><text class="n" x="-1" y="4">C<tspan class="s" dy="2">Y1</tspan></text></g>
<g transform="translate(87,295)"><circle class="c" r="14.5"/><path class="lp" d="M-3.5,-22 L-3.5,-15"/><path class="lp" d="M-1,-25 C3,-26 3.5,-23 3.5,-21 L3.5,-15"/><text class="one" x="-1.5" y="-22">1</text><text class="n" x="-1" y="4">A<tspan class="s" dy="2">Y1</tspan></text></g>
<g transform="translate(252,29)"><circle class="c" r="14.5"/><path class="lp" d="M-3.5,-22 L-3.5,-15"/><path class="lp" d="M-1,-25 C3,-26 3.5,-23 3.5,-21 L3.5,-15"/><text class="one" x="-1.5" y="-22">1</text><text class="n" x="-1" y="4">E<tspan class="s" dy="2">Y2</tspan></text></g>
<g transform="translate(252,78)"><circle class="c" r="14.5"/><path class="lp" d="M-3.5,-22 L-3.5,-15"/><path class="lp" d="M-1,-25 C3,-26 3.5,-23 3.5,-21 L3.5,-15"/><text class="one" x="-1.5" y="-22">1</text><text class="n" x="-1" y="4">C<tspan class="s" dy="2">Y2</tspan></text></g>
<g transform="translate(252,128)"><circle class="c" r="14.5"/><path class="lp" d="M-3.5,-22 L-3.5,-15"/><path class="lp" d="M-1,-25 C3,-26 3.5,-23 3.5,-21 L3.5,-15"/><text class="one" x="-1.5" y="-22">1</text><text class="n" x="-1" y="4">A<tspan class="s" dy="2">Y2</tspan></text></g>
<g transform="translate(252,198)"><circle class="c" r="14.5"/><path class="lp" d="M-3.5,-22 L-3.5,-15"/><path class="lp" d="M-1,-25 C3,-26 3.5,-23 3.5,-21 L3.5,-15"/><text class="one" x="-1.5" y="-22">1</text><text class="n" x="-1" y="4">E<tspan class="s" dy="2">X2</tspan></text></g>
<g transform="translate(252,246)"><circle class="c" r="14.5"/><path class="lp" d="M-3.5,-22 L-3.5,-15"/><path class="lp" d="M-1,-25 C3,-26 3.5,-23 3.5,-21 L3.5,-15"/><text class="one" x="-1.5" y="-22">1</text><text class="n" x="-1" y="4">C<tspan class="s" dy="2">X2</tspan></text></g>
<g transform="translate(252,295)"><circle class="c" r="14.5"/><path class="lp" d="M-3.5,-22 L-3.5,-15"/><path class="lp" d="M-1,-25 C3,-26 3.5,-23 3.5,-21 L3.5,-15"/><text class="one" x="-1.5" y="-22">1</text><text class="n" x="-1" y="4">A<tspan class="s" dy="2">X2</tspan></text></g>
</g>
</svg>
</body></html>
